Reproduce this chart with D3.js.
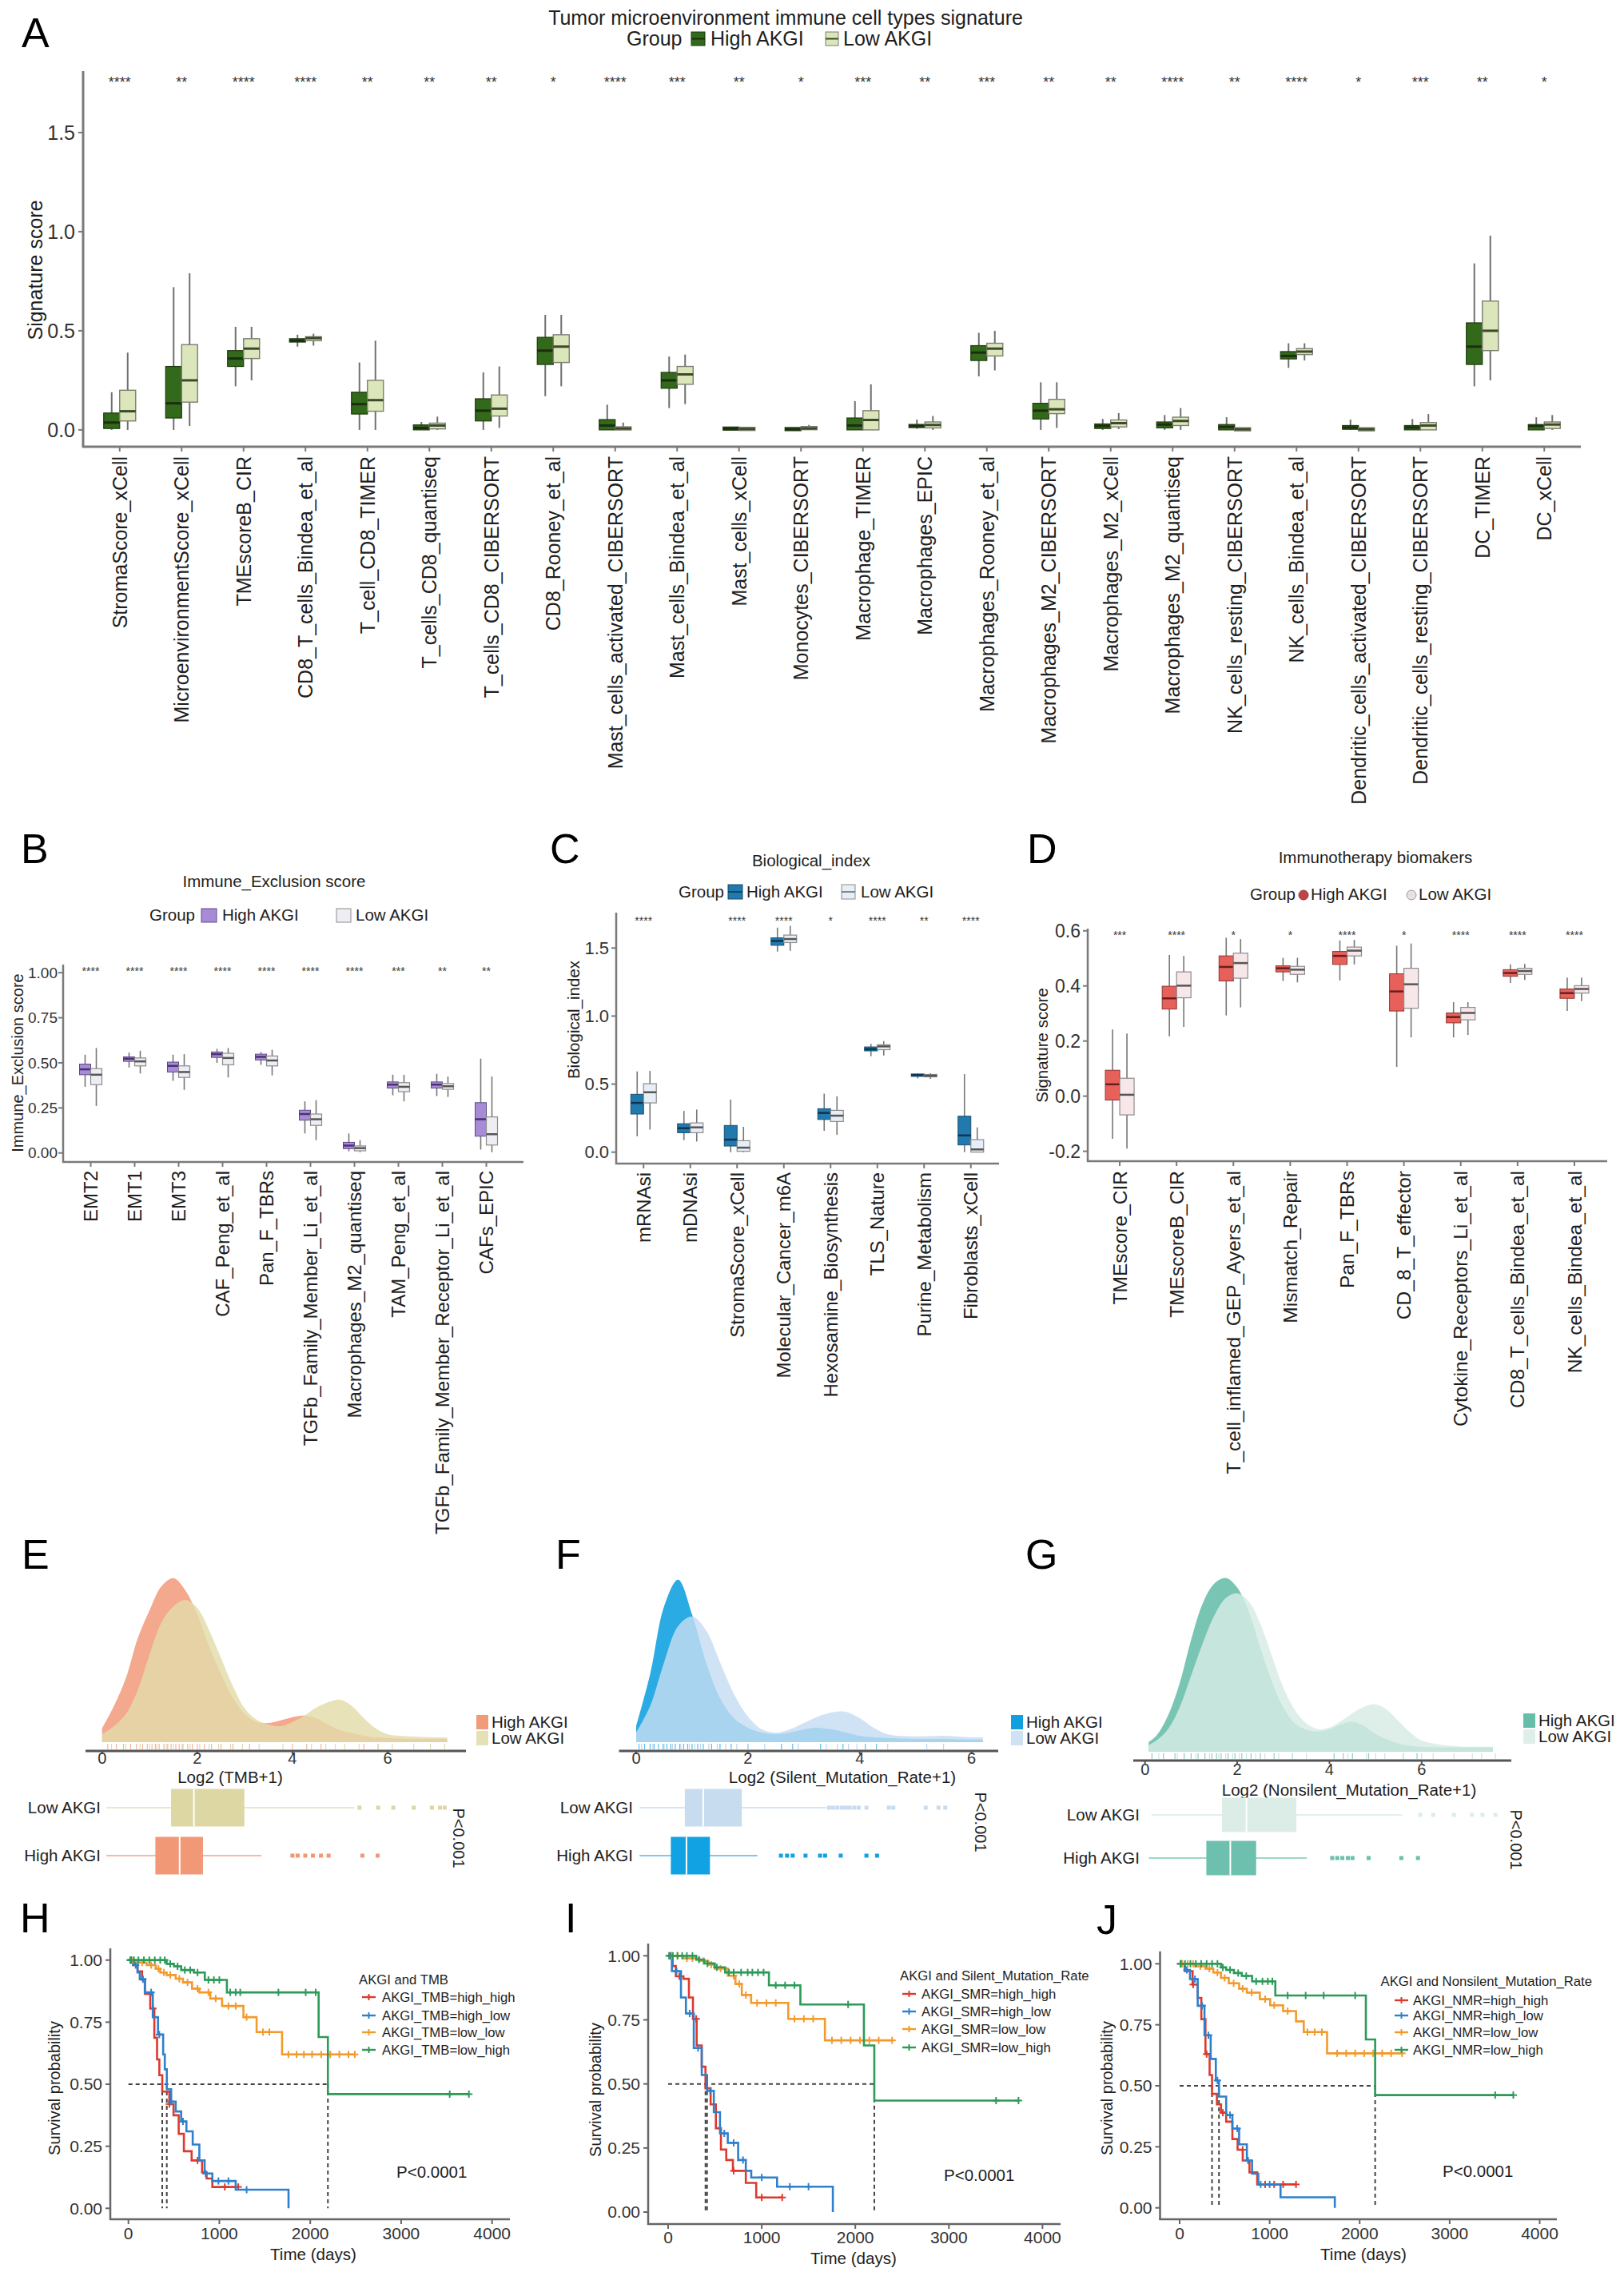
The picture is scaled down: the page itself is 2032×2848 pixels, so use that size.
<!DOCTYPE html>
<html><head><meta charset="utf-8">
<script src="https://cdn.jsdelivr.net/npm/d3@7"></script>
<style>
html,body{margin:0;padding:0;background:#fff;}
svg text{font-family:"Liberation Sans",Arial,Helvetica,sans-serif;}
</style></head><body>
<svg id="fig" width="2032" height="2848"></svg>
<script>
// ================= DATA =================
// Panel A  (box stats: [whiskerLow, Q1, median, Q3, whiskerHigh])
const aCategories = ["StromaScore_xCell","MicroenvironmentScore_xCell","TMEscoreB_CIR","CD8_T_cells_Bindea_et_al","T_cell_CD8_TIMER","T_cells_CD8_quantiseq","T_cells_CD8_CIBERSORT","CD8_Rooney_et_al","Mast_cells_activated_CIBERSORT","Mast_cells_Bindea_et_al","Mast_cells_xCell","Monocytes_CIBERSORT","Macrophage_TIMER","Macrophages_EPIC","Macrophages_Rooney_et_al","Macrophages_M2_CIBERSORT","Macrophages_M2_xCell","Macrophages_M2_quantiseq","NK_cells_resting_CIBERSORT","NK_cells_Bindea_et_al","Dendritic_cells_activated_CIBERSORT","Dendritic_cells_resting_CIBERSORT","DC_TIMER","DC_xCell"];
const aHigh = [[0.0,0.007,0.037,0.085,0.19],[0.0,0.06,0.134,0.32,0.72],[0.22,0.32,0.36,0.40,0.52],[0.42,0.443,0.45,0.46,0.48],[0.0,0.08,0.13,0.19,0.34],[0.0,0.0,0.01,0.025,0.04],[0.0,0.045,0.097,0.157,0.29],[0.17,0.33,0.40,0.467,0.58],[0.0,0.0,0.022,0.052,0.127],[0.11,0.21,0.25,0.29,0.37],[0.0,0.003,0.006,0.01,0.016],[0.0,0.0,0.003,0.008,0.012],[0.0,0.0,0.022,0.06,0.145],[0.005,0.012,0.02,0.027,0.052],[0.27,0.35,0.39,0.425,0.49],[0.0,0.055,0.097,0.134,0.24],[0.0,0.007,0.02,0.03,0.055],[0.0,0.01,0.027,0.04,0.075],[0.0,0.0,0.015,0.027,0.064],[0.313,0.358,0.373,0.395,0.437],[0.0,0.003,0.012,0.022,0.052],[0.0,0.0,0.012,0.022,0.055],[0.22,0.33,0.42,0.54,0.84],[0.0,0.0,0.02,0.027,0.064]];
const aLow = [[0.0,0.045,0.094,0.2,0.39],[0.02,0.14,0.25,0.43,0.79],[0.25,0.36,0.41,0.46,0.52],[0.425,0.45,0.463,0.47,0.485],[0.0,0.094,0.15,0.25,0.45],[0.0,0.005,0.022,0.034,0.067],[0.01,0.07,0.107,0.176,0.32],[0.22,0.34,0.42,0.48,0.58],[0.0,0.0,0.007,0.015,0.037],[0.13,0.23,0.28,0.32,0.38],[0.0,0.002,0.005,0.008,0.012],[0.0,0.003,0.008,0.015,0.025],[0.0,0.0,0.05,0.097,0.23],[0.0,0.01,0.025,0.04,0.07],[0.30,0.373,0.41,0.437,0.50],[0.01,0.082,0.104,0.154,0.24],[0.004,0.015,0.034,0.05,0.085],[0.0,0.022,0.045,0.064,0.11],[0.0,0.0,0.003,0.006,0.01],[0.35,0.38,0.395,0.41,0.437],[0.0,0.0,0.003,0.006,0.01],[0.0,0.0,0.022,0.037,0.08],[0.25,0.40,0.50,0.65,0.98],[0.0,0.007,0.027,0.04,0.075]];
const aStars = ["****","**","****","****","**","**","**","*","****","***","**","*","***","**","***","**","**","****","**","****","*","***","**","*"];
const aTicks = [0, 0.5, 1.0, 1.5];
const aTickLabels = ["0.0","0.5","1.0","1.5"];

// Panel B
const bCategories = ["EMT2","EMT1","EMT3","CAF_Peng_et_al","Pan_F_TBRs","TGFb_Family_Member_Li_et_al","Macrophages_M2_quantiseq","TAM_Peng_et_al","TGFb_Family_Member_Receptor_Li_et_al","CAFs_EPIC"];
const bHigh = [[0.367,0.434,0.464,0.493,0.545],[0.474,0.508,0.523,0.533,0.557],[0.40,0.449,0.483,0.504,0.545],[0.50,0.53,0.548,0.56,0.578],[0.489,0.516,0.533,0.548,0.56],[0.108,0.182,0.216,0.237,0.286],[0.009,0.024,0.041,0.059,0.108],[0.32,0.36,0.379,0.394,0.434],[0.316,0.36,0.379,0.394,0.439],[0.019,0.093,0.187,0.279,0.523]];
const bLow = [[0.261,0.379,0.434,0.468,0.582],[0.441,0.483,0.508,0.527,0.567],[0.35,0.419,0.449,0.483,0.548],[0.419,0.489,0.527,0.553,0.582],[0.43,0.483,0.513,0.538,0.572],[0.071,0.153,0.187,0.216,0.293],[0.004,0.012,0.027,0.039,0.071],[0.286,0.34,0.367,0.39,0.434],[0.311,0.353,0.37,0.385,0.424],[0.004,0.044,0.104,0.2,0.424]];
const bStars = ["****","****","****","****","****","****","****","***","**","**"];
const bTicks = [0, 0.25, 0.5, 0.75, 1.0];
const bTickLabels = ["0.00","0.25","0.50","0.75","1.00"];

// Panel C
const cCategories = ["mRNAsi","mDNAsi","StromaScore_xCell","Molecular_Cancer_m6A","Hexosamine_Biosynthesis","TLS_Nature","Purine_Metabolism","Fibroblasts_xCell"];
const cHigh = [[0.117,0.28,0.362,0.425,0.593],[0.088,0.143,0.176,0.209,0.303],[0.0,0.045,0.092,0.196,0.386],[1.474,1.52,1.552,1.575,1.65],[0.157,0.24,0.288,0.319,0.43],[0.705,0.744,0.757,0.773,0.796],[0.542,0.558,0.566,0.573,0.577],[0.0,0.053,0.123,0.264,0.573]];
const cLow = [[0.166,0.362,0.44,0.503,0.597],[0.078,0.143,0.182,0.215,0.313],[0.0,0.006,0.033,0.084,0.186],[1.48,1.54,1.566,1.595,1.663],[0.127,0.225,0.268,0.307,0.41],[0.71,0.753,0.777,0.789,0.816],[0.538,0.554,0.562,0.57,0.58],[0.0,0.0,0.02,0.092,0.182]];
const cStars = ["****","","****","****","*","****","**","****"];
const cTicks = [0, 0.5, 1.0, 1.5];
const cTickLabels = ["0.0","0.5","1.0","1.5"];

// Panel D
const dCategories = ["TMEscore_CIR","TMEscoreB_CIR","T_cell_inflamed_GEP_Ayers_et_al","Mismatch_Repair","Pan_F_TBRs","CD_8_T_effector","Cytokine_Receptors_Li_et_al","CD8_T_cells_Bindea_et_al","NK_cells_Bindea_et_al"];
const dHigh = [[-0.155,-0.014,0.043,0.094,0.242],[0.217,0.316,0.355,0.399,0.512],[0.293,0.418,0.469,0.509,0.575],[0.418,0.451,0.464,0.473,0.502],[0.42,0.478,0.509,0.525,0.565],[0.106,0.309,0.38,0.444,0.546],[0.213,0.266,0.287,0.302,0.341],[0.411,0.435,0.447,0.459,0.478],[0.309,0.355,0.374,0.389,0.43]];
const dLow = [[-0.19,-0.068,0.005,0.065,0.227],[0.251,0.357,0.401,0.451,0.509],[0.322,0.428,0.483,0.519,0.57],[0.413,0.442,0.459,0.471,0.502],[0.478,0.509,0.528,0.541,0.567],[0.213,0.319,0.406,0.464,0.554],[0.222,0.277,0.302,0.322,0.341],[0.422,0.442,0.454,0.464,0.48],[0.345,0.374,0.389,0.401,0.43]];
const dStars = ["***","****","*","*","****","*","****","****","****"];
const dTicks = [-0.2, 0, 0.2, 0.4, 0.6];
const dTickLabels = ["-0.2","0.0","0.2","0.4","0.6"];

// Panels E-G: density curves (x grid + density), box stats, outliers, rug
const eX = [0,0.25,0.5,0.75,1,1.25,1.5,1.75,2,2.25,2.5,2.75,3,3.25,3.5,3.75,4,4.25,4.5,4.75,5,5.25,5.5,5.75,6,6.5,7,7.25];
const eHighDensity = [0.043,0.113,0.2,0.325,0.413,0.488,0.513,0.475,0.4,0.3,0.213,0.138,0.088,0.063,0.06,0.068,0.078,0.083,0.075,0.055,0.038,0.028,0.02,0.015,0.013,0.01,0.01,0.01];
const eLowDensity = [0.025,0.05,0.088,0.163,0.275,0.375,0.425,0.445,0.42,0.35,0.263,0.175,0.105,0.07,0.055,0.05,0.063,0.083,0.108,0.125,0.133,0.113,0.075,0.043,0.025,0.018,0.015,0.015];
const eBoxLow = [0.09,1.45,1.93,2.99,5.3];
const eOutLow = [5.41,5.8,6.12,6.55,6.93,7.1,7.2];
const eBoxHigh = [0.09,1.12,1.63,2.12,3.35];
const eOutHigh = [4.0,4.11,4.27,4.43,4.6,4.76,5.47,5.79];
const eRugHigh = [0.12,0.3,0.45,0.6,0.72,0.85,0.95,1.05,1.12,1.2,1.3,1.38,1.45,1.55,1.62,1.7,1.8,1.9,2.0,2.15,2.3,2.5,2.75,3.1,4.0,4.3,4.6,5.5,5.8];
const eRugLow = [0.2,0.5,0.8,1.0,1.15,1.35,1.5,1.68,1.85,2.05,2.25,2.45,2.7,2.95,3.3,3.8,4.4,4.7,4.9,5.1,5.4,5.8,6.1,6.55,6.9,7.2];

const fX = [0,0.25,0.5,0.75,1,1.25,1.5,1.75,2,2.25,2.5,2.75,3,3.25,3.5,3.75,4,4.25,4.5,5,5.5,6,6.2];
const fHighDensity = [0.05,0.213,0.425,0.508,0.4,0.25,0.138,0.075,0.045,0.03,0.025,0.03,0.04,0.045,0.04,0.03,0.02,0.015,0.013,0.01,0.01,0.008,0.008];
const fLowDensity = [0.03,0.113,0.25,0.363,0.393,0.35,0.25,0.15,0.08,0.04,0.03,0.04,0.06,0.08,0.093,0.095,0.075,0.045,0.025,0.018,0.02,0.015,0.015];
const fBoxLow = [0.06,0.87,1.2,1.89,3.4];
const fOutLow = [3.45,3.52,3.6,3.68,3.75,3.82,3.9,3.98,4.12,4.52,4.6,5.18,5.41,5.53];
const fBoxHigh = [0.06,0.62,0.9,1.32,2.17];
const fOutHigh = [2.59,2.7,2.8,3.03,3.29,3.38,3.66,4.12,4.31];
const fRugHigh = [0.05,0.15,0.25,0.32,0.4,0.48,0.55,0.62,0.7,0.78,0.85,0.92,1.0,1.1,1.2,1.35,1.5,1.7,2.0,2.6,2.8,3.3,3.7,4.1,4.3];
const fRugLow = [0.1,0.3,0.5,0.65,0.8,0.95,1.05,1.15,1.3,1.45,1.6,1.8,2.0,2.3,2.9,3.4,3.6,3.8,3.95,4.5,5.2,5.5];

const gX = [0.08,0.25,0.5,0.75,1,1.25,1.5,1.75,2,2.25,2.5,2.75,3,3.25,3.5,3.75,4,4.25,4.5,4.75,5,5.25,5.5,5.75,6,6.5,7,7.54];
const gHighDensity = [0.03,0.05,0.113,0.213,0.35,0.463,0.525,0.543,0.513,0.438,0.325,0.22,0.138,0.088,0.068,0.063,0.07,0.085,0.093,0.08,0.055,0.038,0.025,0.018,0.015,0.013,0.013,0.013];
const gLowDensity = [0.02,0.035,0.07,0.138,0.238,0.338,0.425,0.48,0.495,0.47,0.4,0.3,0.2,0.13,0.088,0.07,0.075,0.095,0.12,0.14,0.148,0.13,0.095,0.06,0.035,0.02,0.015,0.015];
const gBoxLow = [0.14,1.67,2.2,3.28,5.58];
const gOutLow = [5.97,6.25,6.7,7.09,7.32,7.6];
const gBoxHigh = [0.08,1.33,1.85,2.41,3.51];
const gOutHigh = [4.06,4.17,4.28,4.4,4.5,4.85,5.56,5.92];
const gRugHigh = [0.15,0.4,0.65,0.85,1.0,1.15,1.3,1.45,1.55,1.65,1.8,1.95,2.1,2.3,2.5,2.8,3.2,4.1,4.3,4.5,4.85,5.6,5.9];
const gRugLow = [0.3,0.7,1.1,1.4,1.6,1.75,1.9,2.05,2.2,2.4,2.6,2.9,3.2,3.5,4.4,4.8,5.0,5.2,5.6,6.0,6.25,6.7,7.1,7.3,7.6];
const densityTicks = [0,2,4,6];

// Panels H-J: Kaplan-Meier steps [time, survival], end time, censor times
const survTicks = [0, 0.25, 0.5, 0.75, 1.0];
const survTickLabels = ["0.00","0.25","0.50","0.75","1.00"];
const timeTicks = [0,1000,2000,3000,4000];

const hHighHigh = [[0,1],[60,0.98],[100,0.955],[150,0.92],[182,0.864],[240,0.805],[285,0.687],[315,0.6],[340,0.536],[372,0.47],[450,0.42],[496,0.375],[553,0.3],[610,0.23],[695,0.193],[810,0.145],[860,0.12],[923,0.086]];
const hHighLow = [[0,1],[50,0.98],[100,0.95],[125,0.923],[180,0.87],[268,0.77],[325,0.7],[382,0.62],[400,0.56],[422,0.48],[470,0.43],[520,0.39],[580,0.35],[638,0.31],[707,0.257],[780,0.193],[838,0.14],[923,0.11],[1180,0.075],[1761,0]];
const hLowLow = [[0,1],[100,0.99],[200,0.98],[300,0.965],[350,0.95],[420,0.94],[520,0.925],[600,0.91],[700,0.885],[780,0.87],[900,0.845],[1030,0.815],[1265,0.77],[1410,0.71],[1690,0.62]];
const hLowHigh = [[0,1],[420,0.985],[500,0.975],[580,0.96],[720,0.95],[840,0.92],[1083,0.87],[2092,0.69],[2194,0.46]];
const hEnds = [1208, 1761, 2490, 3745];
const hCensors = [[30,270,450,760,1060,1208],[20,80,160,250,340,470,600,850,990,1100,1300],[50,150,250,330,390,460,560,650,760,880,960,1100,1180,1300,1480,1550,1760,1850,1930,2020,2120,2220,2320,2420,2490],[20,60,110,170,230,290,350,400,460,540,620,680,760,880,940,1000,1120,1180,1230,1650,1950,2060,3534,3745]];
const hLegend = ["AKGI_TMB=high_high","AKGI_TMB=high_low","AKGI_TMB=low_low","AKGI_TMB=low_high"];

const iHighHigh = [[0,1],[48,0.96],[82,0.92],[164,0.91],[222,0.837],[265,0.754],[305,0.65],[359,0.567],[399,0.483],[454,0.42],[510,0.327],[564,0.244],[621,0.203],[692,0.161],[830,0.114],[941,0.057]];
const iHighLow = [[0,1],[40,0.94],[137,0.837],[190,0.775],[274,0.64],[359,0.535],[416,0.473],[488,0.39],[554,0.307],[637,0.27],[748,0.203],[830,0.161],[888,0.135],[1164,0.099],[1760,0]];
const iLowLow = [[0,1],[164,0.99],[333,0.98],[430,0.965],[497,0.95],[637,0.922],[719,0.89],[787,0.847],[887,0.816],[1284,0.754],[1675,0.67]];
const iLowHigh = [[0,1],[300,0.985],[385,0.97],[497,0.955],[609,0.935],[1077,0.885],[1413,0.81],[2092,0.65],[2203,0.435]];
const iEnds = [1219, 1760, 2394, 3744];
const iCensors = [[30,120,300,700,1000,1219],[20,90,230,320,450,600,700,800,1000,1300,1500],[40,100,200,260,380,460,560,700,760,830,950,1050,1150,1350,1450,1550,1750,1850,1950,2050,2150,2250,2394],[10,50,100,150,200,260,330,420,520,650,700,780,850,900,960,1020,1150,1250,1350,1923,3504,3744]];
const iLegend = ["AKGI_SMR=high_high","AKGI_SMR=high_low","AKGI_SMR=low_low","AKGI_SMR=low_high"];

const jHighHigh = [[0,1],[57,0.97],[144,0.915],[201,0.86],[241,0.773],[287,0.63],[333,0.544],[360,0.467],[414,0.424],[460,0.39],[517,0.353],[586,0.282],[644,0.238],[701,0.194],[776,0.145],[862,0.096]];
const jHighLow = [[0,1],[57,0.975],[115,0.937],[201,0.828],[276,0.707],[345,0.61],[402,0.522],[437,0.456],[517,0.38],[586,0.325],[661,0.26],[747,0.194],[805,0.14],[874,0.096],[1121,0.043],[1724,0]];
const jLowLow = [[0,1],[172,0.99],[287,0.98],[374,0.964],[460,0.942],[546,0.92],[661,0.898],[747,0.882],[891,0.855],[1006,0.83],[1149,0.806],[1293,0.764],[1379,0.72],[1638,0.633]];
const jLowHigh = [[0,1],[460,0.985],[517,0.975],[603,0.962],[690,0.95],[805,0.928],[1063,0.87],[2069,0.69],[2172,0.462]];
const jEnds = [1293, 1724, 2471, 3707];
const jCensors = [[20,150,300,480,700,950,1050,1150,1293],[10,80,170,250,320,420,560,640,760,900,1000],[30,90,150,230,330,420,500,600,700,800,950,1050,1200,1420,1500,1580,1750,1850,1950,2050,2150,2250,2350,2471],[10,60,120,180,240,300,360,420,480,560,650,740,850,920,980,1030,1200,1400,1600,1950,3506,3707]];
const jLegend = ["AKGI_NMR=high_high","AKGI_NMR=high_low","AKGI_NMR=low_low","AKGI_NMR=low_high"];

// ================= DRAWING =================
const svg = d3.select("#fig");
svg.append("rect").attr("width",2032).attr("height",2848).attr("fill","#fff");
const AX = "#7a7a7a";
const TXT = "#1e1e1e";

function txt(parent, s, x, y, size, anchor, opt) {
  opt = opt || {};
  const t = parent.append("text").text(s).attr("font-size", size).attr("text-anchor", anchor || "start").attr("fill", opt.fill || TXT);
  if (opt.rotate !== undefined) t.attr("transform", `translate(${x},${y}) rotate(${opt.rotate})`);
  else t.attr("x", x).attr("y", y);
  if (opt.dy) t.attr("dy", opt.dy);
  return t;
}
function line(g, x1, y1, x2, y2, stroke, w, dash) {
  const l = g.append("line").attr("x1",x1).attr("y1",y1).attr("x2",x2).attr("y2",y2).attr("stroke",stroke).attr("stroke-width",w);
  if (dash) l.attr("stroke-dasharray", dash);
  return l;
}
function letter(s, x, y) { txt(svg, s, x, y, 52, "start", {fill:"#000"}); }

function box(g, y, cx, w, s, st) {
  const [lo,q1,md,q3,hi] = s;
  line(g, cx, y(hi), cx, y(q3), st.wh, st.ww);
  line(g, cx, y(q1), cx, y(lo), st.wh, st.ww);
  let top = y(q3), bot = y(q1);
  if (bot - top < st.minH) { const m = (top+bot)/2; top = m - st.minH/2; bot = m + st.minH/2; }
  g.append("rect").attr("x", cx - w/2).attr("y", top).attr("width", w).attr("height", bot - top)
    .attr("fill", st.fill).attr("stroke", st.stroke).attr("stroke-width", st.sw);
  line(g, cx - w/2, y(md), cx + w/2, y(md), st.med, st.mw);
}

function boxPanel(o) {
  const g = svg.append("g");
  const x = d3.scaleBand().domain(o.cats).range(o.bandRange);
  const y = d3.scaleLinear().domain(o.yDomain).range([o.axisY, o.top]);
  line(g, o.axisX, o.top, o.axisX, o.axisY + 1, AX, o.axW);
  line(g, o.axisX - 1, o.axisY, o.right, o.axisY, AX, o.axW);
  o.ticks.forEach((t, i) => {
    line(g, o.axisX - 6, y(t), o.axisX, y(t), AX, 2);
    txt(g, o.tickLabels[i], o.tickX, y(t), o.tickSize, "end", {dy: ".35em", fill: "#333"});
  });
  o.cats.forEach((c, i) => {
    const cx = x(c) + x.bandwidth() / 2;
    line(g, cx, o.axisY, cx, o.axisY + 6, AX, 2);
    txt(g, c, cx, o.labelY, o.labelSize, "end", {rotate: -90, dy: ".35em"});
    box(g, y, cx - o.bw/2, o.bw, o.high[i], o.hs);
    box(g, y, cx + o.bw/2, o.bw, o.low[i], o.ls);
    if (o.stars[i]) txt(g, o.stars[i], cx, y(o.starVal), o.starSize, "middle", {dy: ".62em", fill: "#333"});
  });
  txt(g, o.yTitle, o.yTitleX, o.yTitleY, o.yTitleSize, "middle", {rotate: -90, dy: ".35em"});
  txt(g, o.title, o.titleX, o.titleY, o.titleSize, "middle", {dy: ".35em"});
  return g;
}

// ---------- Panel A ----------
letter("A", 27, 59);
const gA = boxPanel({
  cats: aCategories, high: aHigh, low: aLow, stars: aStars, ticks: aTicks, tickLabels: aTickLabels,
  bandRange: [111, 1971], yDomain: [-0.085, 1.81], axisX: 104, axisY: 559, top: 89, right: 1978, axW: 3,
  tickX: 94, tickSize: 25, labelY: 571, labelSize: 25, bw: 20, starVal: 1.775, starSize: 18,
  hs: {fill:"#33691a", stroke:"#1d3a0c", sw:1.2, wh:"#6f6f6f", ww:2, med:"#1c2d10", mw:3, minH:4},
  ls: {fill:"#dbe7bb", stroke:"#7d7d70", sw:1.4, wh:"#6f6f6f", ww:2, med:"#3a4a2a", mw:3, minH:4},
  yTitle: "Signature score", yTitleX: 44, yTitleY: 338, yTitleSize: 25,
  title: "Tumor microenvironment immune cell types signature", titleX: 983, titleY: 22, titleSize: 25
});
txt(gA, "Group", 784, 48, 25, "start", {dy: ".35em"});
gA.append("rect").attr("x",865).attr("y",40).attr("width",17).attr("height",17).attr("fill","#33691a").attr("stroke","#1d3a0c");
line(gA, 865, 48.5, 882, 48.5, "#1c2d10", 2);
txt(gA, "High AKGI", 889, 48, 25, "start", {dy: ".35em"});
gA.append("rect").attr("x",1033).attr("y",40).attr("width",16).attr("height",17).attr("fill","#dbe7bb").attr("stroke","#7d7d70");
line(gA, 1033, 48.5, 1049, 48.5, "#3a4a2a", 2);
txt(gA, "Low AKGI", 1055, 48, 25, "start", {dy: ".35em"});

// ---------- Panel B ----------
letter("B", 26, 1080);
const gB = boxPanel({
  cats: bCategories, high: bHigh, low: bLow, stars: bStars, ticks: bTicks, tickLabels: bTickLabels,
  bandRange: [86, 636], yDomain: [-0.05, 1.045], axisX: 79, axisY: 1454, top: 1207, right: 655, axW: 2.5,
  tickX: 72, tickSize: 19, labelY: 1465, labelSize: 24, bw: 14, starVal: 1.027, starSize: 14,
  hs: {fill:"#a88bd6", stroke:"#5e4a86", sw:1, wh:"#777", ww:1.6, med:"#4a3275", mw:2.5, minH:3},
  ls: {fill:"#eeedf4", stroke:"#8c8c8c", sw:1.2, wh:"#777", ww:1.6, med:"#555", mw:2.5, minH:3},
  yTitle: "Immune_Exclusion score", yTitleX: 22, yTitleY: 1330, yTitleSize: 20,
  title: "Immune_Exclusion score", titleX: 343, titleY: 1103, titleSize: 20.5
});
txt(gB, "Group", 187, 1145, 20.5, "start", {dy: ".35em"});
gB.append("rect").attr("x",252).attr("y",1137).attr("width",19).attr("height",17).attr("fill","#a88bd6").attr("stroke","#5e4a86");
txt(gB, "High AKGI", 278, 1145, 20.5, "start", {dy: ".35em"});
gB.append("rect").attr("x",421).attr("y",1137).attr("width",18).attr("height",17).attr("fill","#eeedf4").attr("stroke","#8c8c8c");
txt(gB, "Low AKGI", 445, 1145, 20.5, "start", {dy: ".35em"});

// ---------- Panel C ----------
letter("C", 688, 1080);
const gC = boxPanel({
  cats: cCategories, high: cHigh, low: cLow, stars: cStars, ticks: cTicks, tickLabels: cTickLabels,
  bandRange: [776, 1244], yDomain: [-0.084, 1.76], axisX: 771, axisY: 1456, top: 1142, right: 1250, axW: 2.5,
  tickX: 762, tickSize: 22, labelY: 1467, labelSize: 24, bw: 16, starVal: 1.72, starSize: 14,
  hs: {fill:"#2179ad", stroke:"#174f70", sw:1, wh:"#777", ww:1.6, med:"#0f3550", mw:2.5, minH:3},
  ls: {fill:"#e7eef7", stroke:"#8c8c8c", sw:1.2, wh:"#777", ww:1.6, med:"#555", mw:2.5, minH:3},
  yTitle: "Biological_index", yTitleX: 718, yTitleY: 1276, yTitleSize: 20.5,
  title: "Biological_index", titleX: 1015, titleY: 1077, titleSize: 20.5
});
txt(gC, "Group", 849, 1116, 20.5, "start", {dy: ".35em"});
gC.append("rect").attr("x",911).attr("y",1107).attr("width",18).attr("height",18).attr("fill","#2179ad").attr("stroke","#174f70");
line(gC, 911, 1116, 929, 1116, "#0f3550", 1.5);
txt(gC, "High AKGI", 934, 1116, 20.5, "start", {dy: ".35em"});
gC.append("rect").attr("x",1053).attr("y",1107).attr("width",17).attr("height",18).attr("fill","#e7eef7").attr("stroke","#8c8c8c");
line(gC, 1053, 1116, 1070, 1116, "#666", 1.5);
txt(gC, "Low AKGI", 1077, 1116, 20.5, "start", {dy: ".35em"});

// ---------- Panel D ----------
letter("D", 1285, 1080);
const gD = boxPanel({
  cats: dCategories, high: dHigh, low: dLow, stars: dStars, ticks: dTicks, tickLabels: dTickLabels,
  bandRange: [1365.5, 2005.5], yDomain: [-0.236, 0.608], axisX: 1361, axisY: 1453, top: 1162, right: 2011, axW: 2.5,
  tickX: 1352, tickSize: 23, labelY: 1465, labelSize: 24.5, bw: 18, starVal: 0.596, starSize: 14,
  hs: {fill:"#e8605a", stroke:"#8e3431", sw:1, wh:"#777", ww:1.6, med:"#6a1e1e", mw:2.5, minH:3},
  ls: {fill:"#f8e7e9", stroke:"#8c8c8c", sw:1.2, wh:"#777", ww:1.6, med:"#555", mw:2.5, minH:3},
  yTitle: "Signature score", yTitleX: 1304, yTitleY: 1308, yTitleSize: 20.5,
  title: "Immunotherapy biomakers", titleX: 1721, titleY: 1073, titleSize: 20.5
});
txt(gD, "Group", 1564, 1119, 20.5, "start", {dy: ".35em"});
gD.append("circle").attr("cx",1631).attr("cy",1120).attr("r",6).attr("fill","#c0454a").attr("stroke","#8e3431");
txt(gD, "High AKGI", 1640, 1119, 20.5, "start", {dy: ".35em"});
gD.append("circle").attr("cx",1766).attr("cy",1120).attr("r",6).attr("fill","#e6e0e0").attr("stroke","#999");
txt(gD, "Low AKGI", 1775, 1119, 20.5, "start", {dy: ".35em"});

// ---------- Panels E-G ----------
function densityPanel(o) {
  const g = svg.append("g");
  const x = d3.scaleLinear().domain([0, 6]).range([o.x0, o.x6]);
  const yd = d3.scaleLinear().domain([0, 0.5]).range([o.base, o.base - 200]);
  const area = d3.area().x((d, i) => x(o.grid[i])).y0(o.base).y1(d => yd(d)).curve(d3.curveCatmullRom.alpha(0.5));
  g.append("path").attr("d", area(o.high)).attr("fill", o.highFill).attr("fill-opacity", 0.92);
  g.append("path").attr("d", area(o.low)).attr("fill", o.lowFill).attr("fill-opacity", 0.82);
  // rug
  o.rugHigh.forEach(v => line(g, x(v), o.base + 2, x(v), o.axY - 2, o.rugHighCol, 1.2));
  o.rugLow.forEach(v => line(g, x(v), o.base + 2, x(v), o.axY - 2, o.rugLowCol, 1.2));
  // axis
  line(g, o.axL, o.axY, o.axR, o.axY, "#555", 3);
  densityTicks.forEach(t => {
    line(g, x(t), o.axY, x(t), o.axY + 4, "#555", 2);
    txt(g, String(t), x(t), o.tickY, 20, "middle", {dy: ".35em", fill: "#333"});
  });
  txt(g, o.xTitle, o.xTitleX, o.titleY, 20.5, "middle", {dy: ".35em"});
  // legend
  g.append("rect").attr("x", o.legX).attr("y", o.legY - 9).attr("width", 15).attr("height", 18).attr("fill", o.legHigh);
  g.append("rect").attr("x", o.legX).attr("y", o.legY + 11).attr("width", 15).attr("height", 18).attr("fill", o.legLow);
  txt(g, "High AKGI", o.legX + 19, o.legY, 20.5, "start", {dy: ".35em"});
  txt(g, "Low AKGI", o.legX + 19, o.legY + 20, 20.5, "start", {dy: ".35em"});
  // boxplot rows
  const rows = [[o.boxLow, o.outLow, o.lowRowY, o.boxLowFill, o.whLow, "Low AKGI"], [o.boxHigh, o.outHigh, o.highRowY, o.boxHighFill, o.whHigh, "High AKGI"]];
  rows.forEach(([s, outs, cy, fill, wh, lab]) => {
    const [lo, q1, md, q3, hi] = s;
    line(g, x(lo), cy, x(hi), cy, wh, 2.2);
    g.append("rect").attr("x", x(q1)).attr("y", cy - o.boxH/2).attr("width", x(q3) - x(q1)).attr("height", o.boxH).attr("fill", fill);
    line(g, x(md), cy - o.boxH/2, x(md), cy + o.boxH/2, "#fff", 2);
    outs.forEach(v => g.append("rect").attr("x", x(v) - 2.5).attr("y", cy - 2.5).attr("width", 5).attr("height", 5).attr("fill", fill));
    txt(g, lab, o.rowLabX, cy, 20.5, "end", {dy: ".35em"});
  });
  txt(g, "P<0.001", o.pX, o.pY, 20, "middle", {rotate: 90, dy: ".35em"});
}

letter("E", 27, 1963);
densityPanel({
  grid: eX, high: eHighDensity, low: eLowDensity, rugHigh: eRugHigh, rugLow: eRugLow,
  x0: 127.7, x6: 485, base: 2180, axY: 2191, axL: 107, axR: 583,
  tickY: 2200, titleY: 2224, xTitle: "Log2 (TMB+1)", xTitleX: 288,
  highFill: "#f3a183", lowFill: "#e3dca9", rugHighCol: "#f2b59c", rugLowCol: "#e0dbb4",
  legX: 596, legY: 2155, legHigh: "#f19b79", legLow: "#e4e1b6",
  boxLow: eBoxLow, outLow: eOutLow, boxHigh: eBoxHigh, outHigh: eOutHigh, lowRowY: 2262, highRowY: 2322, boxH: 47,
  boxLowFill: "#ddd7a4", boxHighFill: "#f19877", whLow: "#ebe7c9", whHigh: "#f6b9a2", rowLabX: 126, pX: 574, pY: 2300
});
letter("F", 695, 1963);
densityPanel({
  grid: fX, high: fHighDensity, low: fLowDensity, rugHigh: fRugHigh, rugLow: fRugLow,
  x0: 796, x6: 1215.6, base: 2180, axY: 2191, axL: 774.5, axR: 1249,
  tickY: 2200, titleY: 2224, xTitle: "Log2 (Silent_Mutation_Rate+1)", xTitleX: 1054,
  highFill: "#18a4e2", lowFill: "#c6ddf2", rugHighCol: "#5bbde9", rugLowCol: "#bcd6ee",
  legX: 1265, legY: 2155, legHigh: "#119fe0", legLow: "#cfe2f3",
  boxLow: fBoxLow, outLow: fOutLow, boxHigh: fBoxHigh, outHigh: fOutHigh, lowRowY: 2262, highRowY: 2322, boxH: 47,
  boxLowFill: "#c8dcf0", boxHighFill: "#11a2e3", whLow: "#d6e5f4", whHigh: "#7cc8ee", rowLabX: 792, pX: 1227, pY: 2280
});
letter("G", 1283, 1963);
densityPanel({
  grid: gX, high: gHighDensity, low: gLowDensity, rugHigh: gRugHigh, rugLow: gRugLow,
  x0: 1432.7, x6: 1778.8, base: 2191.7, axY: 2203, axL: 1418, axR: 1891,
  tickY: 2214, titleY: 2240, xTitle: "Log2 (Nonsilent_Mutation_Rate+1)", xTitleX: 1688,
  highFill: "#6dc0ae", lowFill: "#d7ebe5", rugHighCol: "#8fcfc1", rugLowCol: "#cde4de",
  legX: 1906, legY: 2153, legHigh: "#66bea9", legLow: "#e0eeea",
  boxLow: gBoxLow, outLow: gOutLow, boxHigh: gBoxHigh, outHigh: gOutHigh, lowRowY: 2271, highRowY: 2325, boxH: 43,
  boxLowFill: "#dcede8", boxHighFill: "#6cc0ad", whLow: "#e2efeb", whHigh: "#9fd5c9", rowLabX: 1426, pX: 1897, pY: 2302
});

// ---------- Panels H-J ----------
const kmColors = ["#dc3a2e", "#2f80cc", "#f39a2d", "#2c9a58"];
function stepAt(pts, t) { let v = pts[0][1]; for (const p of pts) { if (p[0] <= t) v = p[1]; } return v; }
function plus(g, cx, cy, col, r) {
  line(g, cx - r, cy, cx + r, cy, col, 2);
  line(g, cx, cy - r, cx, cy + r, col, 2);
}
function kmPanel(o) {
  const g = svg.append("g");
  const x = d3.scaleLinear().domain([0, 4000]).range([o.xa, o.xb]);
  const y = d3.scaleLinear().domain([0, 1]).range([o.y0, o.y1]);
  line(g, o.axisX, o.top, o.axisX, o.axisY + 1, "#666", 2.5);
  line(g, o.axisX - 1, o.axisY, o.right, o.axisY, "#666", 2.5);
  survTicks.forEach((t, i) => {
    line(g, o.axisX - 6, y(t), o.axisX, y(t), "#666", 2);
    txt(g, survTickLabels[i], o.axisX - 10, y(t), 21, "end", {dy: ".35em", fill: "#333"});
  });
  timeTicks.forEach(t => {
    line(g, x(t), o.axisY, x(t), o.axisY + 6, "#666", 2);
    txt(g, String(t), x(t), o.xTickY, 21, "middle", {dy: ".35em", fill: "#333"});
  });
  txt(g, "Time (days)", o.xTitleX, o.xTitleY, 20.6, "middle", {dy: ".35em"});
  txt(g, "Survival probability", o.yTitleX, o.yTitleY, 20, "middle", {rotate: -90, dy: ".35em"});
  // medians
  const meds = o.series.map(s => { const p = s.find(d => d[1] <= 0.5); return p ? p[0] : null; }).filter(v => v !== null);
  if (meds.length) {
    line(g, x(0), y(0.5), x(d3.max(meds)), y(0.5), "#444", 2, "5,4");
    meds.forEach(m => line(g, x(m), y(0.5), x(m), y(0), "#444", 2, "5,4"));
  }
  const ln = d3.line().x(d => x(d[0])).y(d => y(d[1])).curve(d3.curveStepAfter);
  o.series.forEach((s, k) => {
    const pts = s.concat([[o.ends[k], s[s.length - 1][1]]]);
    g.append("path").attr("d", ln(pts)).attr("fill", "none").attr("stroke", kmColors[k]).attr("stroke-width", 2.6);
    o.censors[k].forEach(t => plus(g, x(t), y(stepAt(s, t)), kmColors[k], 4.5));
  });
  // legend
  txt(g, o.legTitle, o.legX, o.legTitleY, 16.7, "start", {dy: ".35em"});
  o.legLabels.forEach((lab, k) => {
    const cy = o.legY[k];
    line(g, o.symX, cy, o.symX + 17, cy, kmColors[k], 2.4);
    plus(g, o.symX + 8.5, cy, kmColors[k], 4);
    txt(g, lab, o.textX, cy, 16.7, "start", {dy: ".35em"});
  });
  txt(g, "P<0.0001", o.pX, o.pY, 20.5, "start", {dy: ".35em"});
}

letter("H", 25, 2418);
kmPanel({
  series: [hHighHigh, hHighLow, hLowLow, hLowHigh], ends: hEnds, censors: hCensors, legLabels: hLegend,
  xa: 160.7, xb: 615.7, y0: 2763.3, y1: 2452.7, axisX: 138, axisY: 2777, top: 2438, right: 638,
  xTickY: 2795, xTitleX: 392, xTitleY: 2821, yTitleX: 68, yTitleY: 2613,
  legTitle: "AKGI and TMB", legX: 449, legTitleY: 2477, legY: [2499, 2522, 2543, 2565], symX: 453, textX: 478,
  pX: 496, pY: 2718
});
letter("I", 707, 2418);
kmPanel({
  series: [iHighHigh, iHighLow, iLowLow, iLowHigh], ends: iEnds, censors: iCensors, legLabels: iLegend,
  xa: 836, xb: 1304.4, y0: 2768, y1: 2447.3, axisX: 811, axisY: 2783, top: 2432, right: 1327,
  xTickY: 2800, xTitleX: 1068, xTitleY: 2826, yTitleX: 745, yTitleY: 2615,
  legTitle: "AKGI and Silent_Mutation_Rate", legX: 1126, legTitleY: 2472, legY: [2495, 2517, 2539, 2562], symX: 1129, textX: 1153,
  pX: 1181, pY: 2722
});
letter("J", 1372, 2420);
kmPanel({
  series: [jHighHigh, jHighLow, jLowLow, jLowHigh], ends: jEnds, censors: jCensors, legLabels: jLegend,
  xa: 1476, xb: 1926.5, y0: 2762.7, y1: 2457.3, axisX: 1451.5, axisY: 2777, top: 2441.7, right: 1948,
  xTickY: 2795, xTitleX: 1706, xTitleY: 2821, yTitleX: 1385, yTitleY: 2613,
  legTitle: "AKGI and Nonsilent_Mutation_Rate", legX: 1727.6, legTitleY: 2479, legY: [2503, 2522, 2543, 2565], symX: 1745, textX: 1768,
  pX: 1805, pY: 2717
});
</script></body></html>
